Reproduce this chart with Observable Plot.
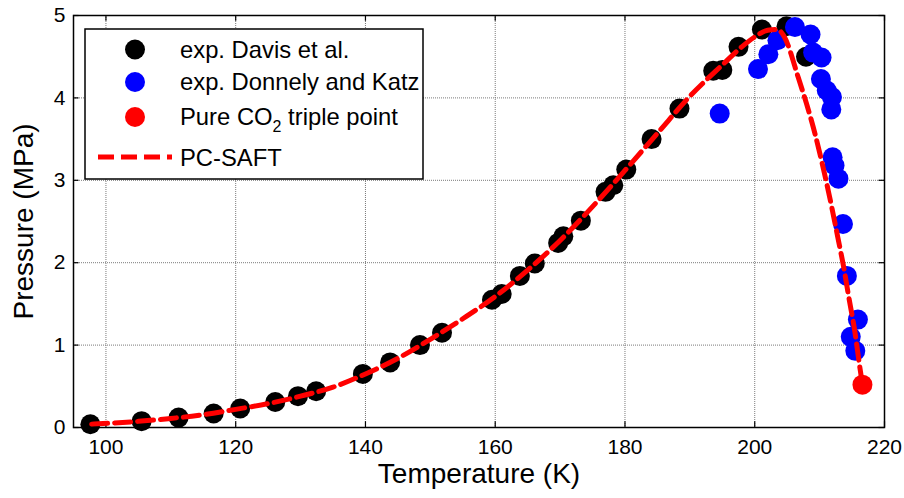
<!DOCTYPE html>
<html>
<head>
<meta charset="utf-8">
<script src="https://cdn.jsdelivr.net/npm/d3@7"></script>
<script src="https://cdn.jsdelivr.net/npm/@observablehq/plot@0.6"></script>
<style>
  html, body { margin: 0; padding: 0; background: white; }
  #chart { width: 904px; height: 498px; position: relative; }
</style>
</head>
<body>
<div id="chart"></div>
<script>
// Tick values
const xTicks = [100, 120, 140, 160, 180, 200, 220];
const yTicks = [0, 1, 2, 3, 4, 5];

// exp. Davis et al. (black)
const davisT = [97.6, 105.5, 111.2, 116.6, 120.7, 126.1, 129.6, 132.4, 139.6, 143.8, 148.4, 151.8,
  159.5, 161.0, 163.8, 166.1, 169.7, 170.5, 173.2, 177.0, 178.2, 180.2, 184.1, 188.4, 193.6, 195.0,
  197.5, 201.1, 204.9, 207.9];
const davisP = [0.04, 0.077, 0.12, 0.17, 0.23, 0.31, 0.38, 0.44, 0.65, 0.79, 1.0, 1.15,
  1.55, 1.62, 1.84, 1.99, 2.24, 2.32, 2.51, 2.86, 2.94, 3.13, 3.50, 3.87, 4.33, 4.34,
  4.62, 4.83, 4.87, 4.50];

// exp. Donnely and Katz (blue)
const donnellyT = [194.6, 200.5, 202.1, 203.5, 206.2, 208.6, 209.0, 210.3, 210.2, 211.1, 211.9, 211.8,
  212.0, 212.3, 212.9, 213.6, 214.2, 215.9, 214.8, 215.5];
const donnellyP = [3.81, 4.35, 4.53, 4.70, 4.86, 4.77, 4.55, 4.49, 4.23, 4.09, 4.01, 3.86,
  3.28, 3.18, 3.02, 2.47, 1.84, 1.31, 1.10, 0.93];

// Pure CO2 triple point (red)
const tripleT = [216.6];
const tripleP = [0.52];

// PC-SAFT curve
const saftT = [97.8, 105, 110, 115, 120, 125, 130, 135, 140, 145, 150, 155, 160, 165, 170, 175, 180,
  185, 190, 195, 198, 200, 202, 203.5, 204.5, 206.7, 209.3, 211.4, 212.9, 213.7, 214.5, 215.4, 216.2, 216.6];
const saftP = [0.04, 0.075, 0.11, 0.155, 0.22, 0.29, 0.38, 0.49, 0.65, 0.84, 1.07, 1.32, 1.59, 1.91, 2.27, 2.68, 3.12,
  3.57, 4.02, 4.40, 4.62, 4.74, 4.82, 4.83, 4.75, 4.25, 3.56, 2.85, 2.27, 1.95, 1.58, 1.18, 0.73, 0.52];

const davis = davisT.map((t, i) => ({T: t, P: davisP[i]}));
const donnelly = donnellyT.map((t, i) => ({T: t, P: donnellyP[i]}));
const triple = tripleT.map((t, i) => ({T: t, P: tripleP[i]}));
const saft = saftT.map((t, i) => ({T: t, P: saftP[i]}));

const FONT = "'Liberation Sans', Arial, Helvetica, sans-serif";
const R = 10;

const chart = Plot.plot({
  width: 904,
  height: 498,
  marginLeft: 73,
  marginRight: 20,
  marginTop: 15,
  marginBottom: 71,
  style: {fontFamily: FONT, background: "white", color: "black", overflow: "visible"},
  x: {domain: [95, 220]},
  y: {domain: [0, 5]},
  marks: [
    Plot.gridX(xTicks, {stroke: "#7a7a7a", strokeOpacity: 1, strokeDasharray: "1,1"}),
    Plot.gridY(yTicks, {stroke: "#7a7a7a", strokeOpacity: 1, strokeDasharray: "1,1"}),
    Plot.ruleX(xTicks, {y1: 0, y2: 0.07, stroke: "black", strokeWidth: 1.2}),
    Plot.ruleX(xTicks, {y1: 5, y2: 4.93, stroke: "black", strokeWidth: 1.2}),
    Plot.ruleY(yTicks, {x1: 95, x2: 95.85, stroke: "black", strokeWidth: 1.2}),
    Plot.ruleY(yTicks, {x1: 220, x2: 219.15, stroke: "black", strokeWidth: 1.2}),
    Plot.axisX(xTicks, {tickSize: 0, tickPadding: 12, fontSize: 21, label: null, tickFormat: d => String(d)}),
    Plot.axisY(yTicks, {tickSize: 0, tickPadding: 8, fontSize: 21, label: null, tickFormat: d => String(d)}),
    Plot.text(["Temperature (K)"], {frameAnchor: "bottom", dy: 55, fontSize: 28, fill: "black", textAnchor: "middle"}),
    Plot.text(["Pressure (MPa)"], {frameAnchor: "left", dx: -49, rotate: -90, fontSize: 28, fill: "black", textAnchor: "middle"}),
    Plot.dot(davis, {x: "T", y: "P", r: R, fill: "black", stroke: "none"}),
    Plot.dot(donnelly, {x: "T", y: "P", r: R, fill: "#0000ff", stroke: "none"}),
    Plot.line(saft, {x: "T", y: "P", stroke: "#ff0000", strokeWidth: 5, strokeDasharray: "16,7", curve: "monotone-x"}),
    Plot.dot(triple, {x: "T", y: "P", r: R, fill: "#ff0000", stroke: "none"}),
    Plot.frame({stroke: "black", strokeWidth: 1.5})
  ]
});

document.getElementById("chart").appendChild(chart);

// Legend (inside the plot area, top-left)
const legendItems = [
  {label: "exp. Davis et al.", kind: "dot", color: "black"},
  {label: "exp. Donnely and Katz", kind: "dot", color: "#0000ff"},
  {label: "Pure CO", sub: "2", rest: " triple point", kind: "dot", color: "#ff0000"},
  {label: "PC-SAFT", kind: "line", color: "#ff0000"}
];
const rowY = [49.5, 82, 117, 158];
const svg = d3.select(chart);
const lg = svg.append("g").attr("font-family", FONT).attr("font-size", 23.8).attr("text-anchor", "start");
lg.append("rect").attr("x", 85).attr("y", 29).attr("width", 338).attr("height", 150)
  .attr("fill", "white").attr("stroke", "black").attr("stroke-width", 1.5);
legendItems.forEach((it, i) => {
  const y = rowY[i];
  if (it.kind === "dot") {
    lg.append("circle").attr("cx", 135).attr("cy", y).attr("r", R).attr("fill", it.color);
  } else {
    lg.append("line").attr("x1", 98).attr("x2", 172).attr("y1", y - 1).attr("y2", y - 1)
      .attr("stroke", it.color).attr("stroke-width", 5).attr("stroke-dasharray", "16,7");
  }
  const t = lg.append("text").attr("x", 180).attr("y", y).attr("dy", "0.35em").attr("fill", "black");
  t.append("tspan").text(it.label);
  if (it.sub) {
    t.append("tspan").attr("font-size", 16).attr("dy", 7).text(it.sub);
    t.append("tspan").attr("dy", -7).text(it.rest);
  }
});
</script>
</body>
</html>
